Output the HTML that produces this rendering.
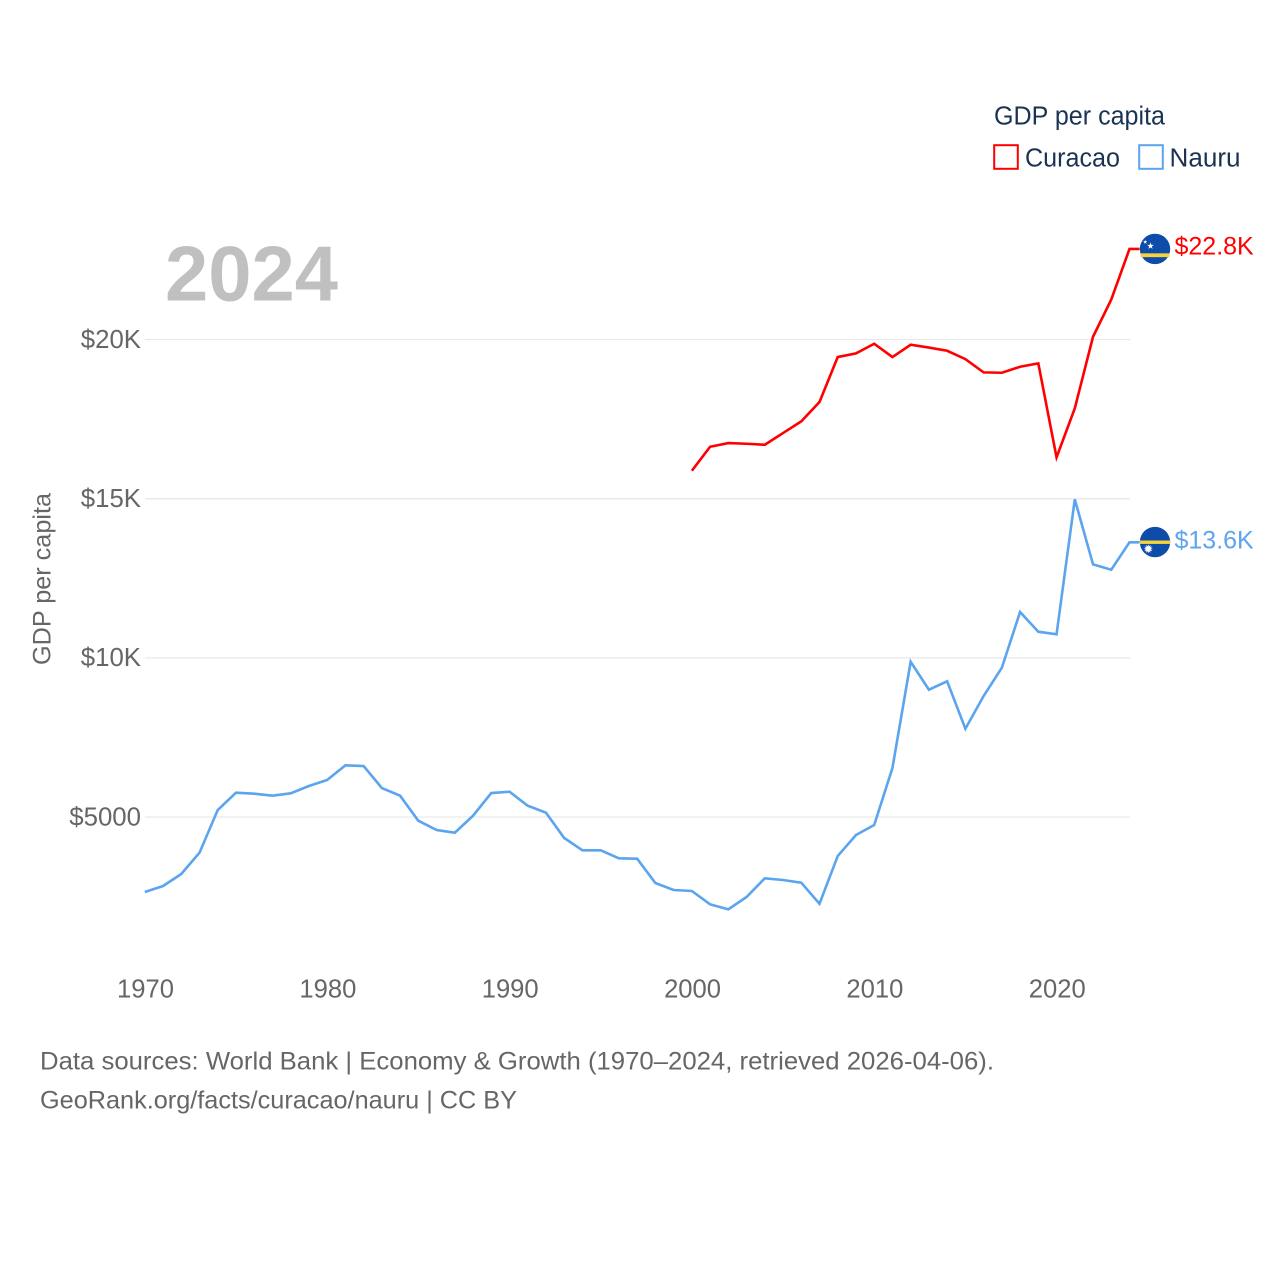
<!DOCTYPE html>
<html lang="en">
<head>
<meta charset="utf-8">
<title>GDP per capita: Curacao and Nauru</title>
<style>
html,body{margin:0;padding:0;background:#fff;width:1280px;height:1280px;overflow:hidden}
svg{display:block}
text{font-family:"Liberation Sans",sans-serif}
</style>
</head>
<body>
<svg id="chart" xmlns="http://www.w3.org/2000/svg" width="1280" height="1280" viewBox="0 0 1280 1280">
  <rect x="0" y="0" width="1280" height="1280" fill="#fff"/>
  <g id="grid"></g>
  <g id="yticks"></g>
  <g id="xticks"></g>
  <text x="165" y="300.7" font-size="78" font-weight="700" fill="#c0c0c0" textLength="173" lengthAdjust="spacingAndGlyphs">2024</text>
  <text transform="translate(50.5,665) rotate(-90)" font-size="25" fill="#666" textLength="172" lengthAdjust="spacingAndGlyphs">GDP per capita</text>
  <g id="series"></g>

  <g>
    <text x="994" y="124.5" font-size="25.5" fill="#1a3353" textLength="171" lengthAdjust="spacingAndGlyphs">GDP per capita</text>
    <g>
      <rect x="994.2" y="145.2" width="23.6" height="23.6" fill="#fff" stroke="#ff0000" stroke-width="2"/>
      <text x="1025" y="166.5" font-size="25.5" fill="#1a3353" textLength="95" lengthAdjust="spacingAndGlyphs">Curacao</text>
    </g>
    <g>
      <rect x="1139.2" y="145.2" width="23.6" height="23.6" fill="#fff" stroke="#5ba4ee" stroke-width="2"/>
      <text x="1169.5" y="166.5" font-size="25.5" fill="#1a3353" textLength="71" lengthAdjust="spacingAndGlyphs">Nauru</text>
    </g>
  </g>

  <g>
    <text x="40" y="1069.3" font-size="25" fill="#666" textLength="954" lengthAdjust="spacingAndGlyphs">Data sources: World Bank | Economy &amp; Growth (1970–2024, retrieved 2026-04-06).</text>
    <text x="40" y="1108.3" font-size="25" fill="#666" textLength="477" lengthAdjust="spacingAndGlyphs">GeoRank.org/facts/curacao/nauru | CC BY</text>
  </g>
</svg>

<script>
const nauruYears = [1970,1971,1972,1973,1974,1975,1976,1977,1978,1979,1980,1981,1982,1983,1984,1985,1986,1987,1988,1989,1990,1991,1992,1993,1994,1995,1996,1997,1998,1999,2000,2001,2002,2003,2004,2005,2006,2007,2008,2009,2010,2011,2012,2013,2014,2015,2016,2017,2018,2019,2020,2021,2022,2023,2024];
const nauruValues = [2645,2833,3210,3879,5220,5764,5732,5670,5745,5974,6163,6624,6602,5911,5670,4884,4592,4507,5041,5754,5795,5355,5136,4341,3954,3954,3703,3691,2927,2708,2676,2258,2101,2488,3075,3022,2937,2277,3775,4435,4749,6540,9878,8999,9263,7774,8801,9690,11440,10821,10739,14979,12938,12768,13629];
const curacaoYears = [2000,2001,2002,2003,2004,2005,2006,2007,2008,2009,2010,2011,2012,2013,2014,2015,2016,2017,2018,2019,2020,2021,2022,2023,2024];
const curacaoValues = [15878,16632,16748,16726,16694,17062,17429,18036,19449,19565,19867,19449,19835,19747,19647,19386,18968,18956,19144,19251,16299,17838,20087,21255,22845];
const yTickValues = [5000,10000,15000,20000];
const yTickLabels = ["$5000","$10K","$15K","$20K"];
const xTickValues = [1970,1980,1990,2000,2010,2020];
const xTickLabels = ["1970","1980","1990","2000","2010","2020"];

const SVGNS = "http://www.w3.org/2000/svg";
function xScale(year){ return 144.8 + (year - 1970) * 18.235; }
function yScale(value){ return 976.2 - value * 0.031834; }
function make(tag, attrs, parent){
  const el = document.createElementNS(SVGNS, tag);
  for (const k in attrs) el.setAttribute(k, attrs[k]);
  parent.appendChild(el);
  return el;
}

const grid = document.getElementById("grid");
const yticks = document.getElementById("yticks");
yTickValues.forEach(function(v, i){
  const line = make("line", {x1:145, x2:1130, y1:yScale(v), y2:yScale(v), stroke:"#e9e9e9", "stroke-width":1.3}, grid);
  
  
  const label = make("text", {x:141, y:yScale(v)+8.3, "text-anchor":"end", "font-size":25.8, fill:"#666"}, yticks);
  
  
  label.textContent = yTickLabels[i];
});

const xticks = document.getElementById("xticks");
xTickValues.forEach(function(v, i){
  const label = make("text", {x:xScale(v)+0.7, y:997.7, "text-anchor":"middle", "font-size":25.6, fill:"#666"}, xticks);
  
  
  label.textContent = xTickLabels[i];
});

function linePath(years, values){
  let d = "";
  years.forEach(function(y, i){
    d += (i ? "L" : "M") + xScale(y).toFixed(2) + " " + yScale(values[i]).toFixed(2);
  });
  // short connector from the last point to the flag marker
  d += "H" + (xScale(years[years.length - 1]) + 10).toFixed(2);
  return d;
}
function valueLabel(v){ return "$" + (v / 1000).toFixed(1) + "K"; }

const seriesGroup = document.getElementById("series");

// Curacao line
const curacaoLine = make("path", {d:linePath(curacaoYears, curacaoValues), fill:"none", stroke:"#ff0000", "stroke-width":2.6}, seriesGroup);



// Nauru line
const nauruLine = make("path", {d:linePath(nauruYears, nauruValues), fill:"none", stroke:"#5ba4ee", "stroke-width":2.6}, seriesGroup);



// 12-point star for Nauru, 5-point star for Curacao
function starPoints(cx, cy, outer, inner, n){
  const pts = [];
  for (let i = 0; i < n * 2; i++){
    const r = i % 2 ? inner : outer;
    const a = -Math.PI / 2 + i * Math.PI / n;
    pts.push((cx + r * Math.cos(a)).toFixed(2) + "," + (cy + r * Math.sin(a)).toFixed(2));
  }
  return pts.join(" ");
}

// Curacao flag marker and value
const lastCuracao = curacaoValues[curacaoValues.length - 1];
const curacaoFlag = make("g", {transform:"translate(1155," + yScale(lastCuracao).toFixed(2) + ")"}, seriesGroup);


make("circle", {cx:0, cy:0, r:15.2, fill:"#0d4ca8"}, curacaoFlag);
make("rect", {x:-14.4, y:4.4, width:28.8, height:3.8, fill:"#f6d33c"}, curacaoFlag);
make("polygon", {points:starPoints(-4.5,-3,3.6,1.4,5), fill:"#fff"}, curacaoFlag);
make("polygon", {points:starPoints(-9.8,-7,2.2,0.9,5), fill:"#fff"}, curacaoFlag);
const curacaoValue = make("text", {x:1174.5, y:yScale(lastCuracao)+5.6, "font-size":25, fill:"#ff0000"}, seriesGroup);


curacaoValue.textContent = valueLabel(lastCuracao);

// Nauru flag marker and value
const lastNauru = nauruValues[nauruValues.length - 1];
const nauruFlag = make("g", {transform:"translate(1155," + yScale(lastNauru).toFixed(2) + ")"}, seriesGroup);


make("circle", {cx:0, cy:-0.3, r:15.2, fill:"#0d4ca8"}, nauruFlag);
make("rect", {x:-15, y:-1.8, width:30, height:3.4, fill:"#f6d33c"}, nauruFlag);
make("polygon", {points:starPoints(-6.7,6.5,4.6,2.5,12), fill:"#fff"}, nauruFlag);
const nauruValue = make("text", {x:1174.5, y:yScale(lastNauru)+6.4, "font-size":25, fill:"#5ba4ee"}, seriesGroup);


nauruValue.textContent = valueLabel(lastNauru);
</script>
</body>
</html>
